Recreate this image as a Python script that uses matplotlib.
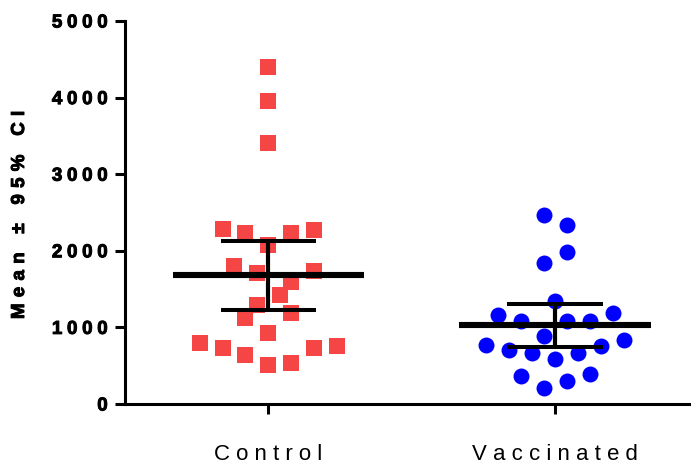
import matplotlib
matplotlib.use("Agg")
import matplotlib.pyplot as plt
import matplotlib.patheffects as pe
from matplotlib.ticker import FuncFormatter
import numpy as np

plt.rcParams['font.family'] = ['Liberation Sans', 'DejaVu Sans']

# groups
categories = ["Control", "Vaccinated"]

# individual measurements and their column slot within the scatter cloud
control_values = [4404, 3960, 3407, 2289, 2236, 2076, 2236, 2272, 1802, 1714,
                  1740, 1597, 1423, 1292, 1127, 1184, 923, 800, 735, 640,
                  509, 531, 731, 757]
control_slots = [0, 0, 0, -2, -1, 0, 1, 2, -1.5, -0.5,
                 2, 1, 0.5, -0.5, -1, 1, 0, -3, -2, -1,
                 0, 1, 2, 3]

vaccinated_values = [2467, 2333, 1988, 1836, 1345, 1162, 1084, 1084, 1084, 1184,
                     892, 770, 705, 662, 587, 662, 761, 836, 370, 213,
                     300, 392]
vaccinated_slots = [-0.5, 0.5, 0.5, -0.5, 0, -2.5, -1.5, 0.5, 1.5, 2.5,
                    -0.5, -3, -2, -1, 0, 1, 2, 3, -1.5, -0.5,
                    0.5, 1.5]

# group summaries: mean and 95% confidence interval
means = [1688, 1035]
ci_low = [1231, 748]
ci_high = [2132, 1309]

y_ticks = [0, 1000, 2000, 3000, 4000, 5000]
y_label = "Mean ± 95% CI"

RED = "#F64545"
BLUE = "#0000FF"
SLOT_WIDTH = 0.08
HEAVY = [pe.withStroke(linewidth=0.7, foreground="black")]


def spaced(text, gap, word_gap=None):
    """Insert spacing between letters (tracking)."""
    word_gap = gap if word_gap is None else word_gap
    return word_gap.join(gap.join(w) for w in text.split(" "))


fig = plt.figure(figsize=(6.91, 4.67), dpi=100)
ax = fig.add_axes([125 / 691, 1 - 404 / 467, 565 / 691, 383 / 467])

ax.scatter(0 + np.array(control_slots) * SLOT_WIDTH, control_values,
           marker="s", s=144, color=RED, linewidths=0, zorder=2)
ax.scatter(1 + np.array(vaccinated_slots) * SLOT_WIDTH, vaccinated_values,
           marker="o", s=132, color=BLUE, linewidths=0, zorder=2)

xpos = np.arange(len(categories))
ax.hlines(means, xpos - 0.334, xpos + 0.334, color="black", lw=4.4, zorder=3)
ax.vlines(xpos, ci_low, ci_high, color="black", lw=3.0, zorder=3)
ax.hlines(ci_low, xpos - 0.167, xpos + 0.167, color="black", lw=2.9, zorder=3)
ax.hlines(ci_high, xpos - 0.167, xpos + 0.167, color="black", lw=2.9, zorder=3)

ax.set_xlim(-0.5, 1.47)
ax.set_ylim(0, 5000)

for side in ("top", "right"):
    ax.spines[side].set_visible(False)
for side in ("left", "bottom"):
    ax.spines[side].set_linewidth(2.2)

ax.set_yticks(y_ticks)
ax.yaxis.set_major_formatter(FuncFormatter(lambda v, p: spaced(f"{int(v)}", "\u2005")))
ax.set_xticks(xpos, labels=[spaced(c, " ") for c in categories])

ax.tick_params(axis="y", direction="out", length=7.5, width=2.2, pad=5,
               labelsize=13.5)
ax.tick_params(axis="x", direction="out", length=7.5, width=2.2, pad=21,
               labelsize=16)
for lab in ax.get_yticklabels():
    lab.set_fontweight("bold")
    lab.set_path_effects(HEAVY)

ax.set_ylabel(spaced(y_label, "\u2004", "\u2003"), fontsize=13.5,
              fontweight="bold", va="center", path_effects=HEAVY)
ax.yaxis.set_label_coords((19.5 - 125) / 565, 0.5 - 2.5 / 383)

fig.savefig("out.png", dpi=100)
